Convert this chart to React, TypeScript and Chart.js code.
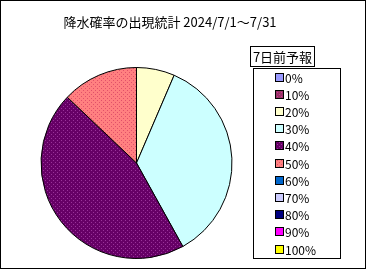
import React, { useEffect, useRef } from "react";
import { Chart, registerables } from "chart.js";

Chart.register(...registerables);

const chartTitle = "降水確率の出現統計 2024/7/1～7/31";
const legendTitle = "7日前予報";
const categories = ["0%", "10%", "20%", "30%", "40%", "50%", "60%", "70%", "80%", "90%", "100%"];
const dayCounts = [0, 0, 2, 11, 14, 4, 0, 0, 0, 0, 0];
const sliceColors = ["#9999FF", "#993366", "#FFFFCC", "#CCFFFF", "#660066", "#FF8080", "#0066CC", "#CCCCFF", "#000080", "#FF00FF", "#FFFF00"];
const dotColors: (string | null)[] = [null, "#CC3399", null, null, "#993399", "#E0506A", null, null, null, null, null];

const FONT = '"Noto Sans CJK JP", "Noto Sans", sans-serif';

function makePattern(bg: string, dot: string | null): CanvasPattern | string {
  if (!dot) return bg;
  const c = document.createElement("canvas");
  c.width = 4;
  c.height = 4;
  const g = c.getContext("2d")!;
  g.fillStyle = bg;
  g.fillRect(0, 0, 4, 4);
  g.fillStyle = dot;
  g.fillRect(1, 0, 1, 1);
  g.fillRect(3, 2, 1, 1);
  const p = g.createPattern(c, "repeat");
  return p || bg;
}

const decorPlugin = {
  id: "decor",
  beforeDraw(chart: any) {
    const ctx = chart.ctx;
    ctx.save();
    ctx.fillStyle = "#ffffff";
    ctx.fillRect(0, 0, chart.width, chart.height);
    ctx.restore();
  },
  afterDraw(chart: any) {
    const ctx = chart.ctx as CanvasRenderingContext2D;
    const fills = chart.data.datasets[0].backgroundColor as any[];
    const labels = chart.data.labels as string[];
    ctx.save();
    ctx.strokeStyle = "#000";
    ctx.lineWidth = 1;
    // outer frame
    ctx.strokeRect(0.5, 0.5, 365, 268);
    // title
    ctx.fillStyle = "#000";
    ctx.font = `13px ${FONT}`;
    ctx.textAlign = "center";
    ctx.textBaseline = "middle";
    ctx.fillText(chartTitle, 170, 22);
    // legend title box
    ctx.strokeRect(250.5, 46.5, 64, 20);
    ctx.font = `13px ${FONT}`;
    ctx.fillText(legendTitle, 282.5, 57);
    // legend box
    ctx.strokeRect(253.5, 68.5, 87, 190);
    ctx.textAlign = "left";
    ctx.font = `12px ${FONT}`;
    for (let i = 0; i < labels.length; i++) {
      const y = 77 + i * 17.2;
      const by = Math.round(y - 3.5);
      ctx.fillStyle = fills[i];
      ctx.fillRect(276, by, 7, 7);
      ctx.strokeRect(275.5, by - 0.5, 8, 8);
      ctx.fillStyle = "#000";
      ctx.fillText(labels[i], 285, y + 1);
    }
    ctx.restore();
  },
};

export default function App() {
  const ref = useRef<HTMLCanvasElement>(null);
  useEffect(() => {
    if (!ref.current) return;
    const fills = sliceColors.map((c, i) => makePattern(c, dotColors[i]));
    const chart = new Chart(ref.current, {
      type: "pie",
      data: {
        labels: categories,
        datasets: [
          {
            data: dayCounts,
            backgroundColor: fills as any,
            borderColor: "#000",
            borderWidth: 1,
            hoverOffset: 0,
          },
        ],
      },
      options: {
        responsive: false,
        animation: false,
        devicePixelRatio: 1,
        layout: { padding: { left: 40, top: 67, right: 134, bottom: 11 } },
        plugins: {
          legend: { display: false },
          title: { display: false },
          tooltip: { enabled: false },
        },
      },
      plugins: [decorPlugin],
    });
    return () => chart.destroy();
  }, []);
  return (
    <div style={{ position: "fixed", left: 0, top: 0, width: 367, height: 270 }}>
      <canvas ref={ref} width={367} height={270} style={{ display: "block" }} />
    </div>
  );
}
